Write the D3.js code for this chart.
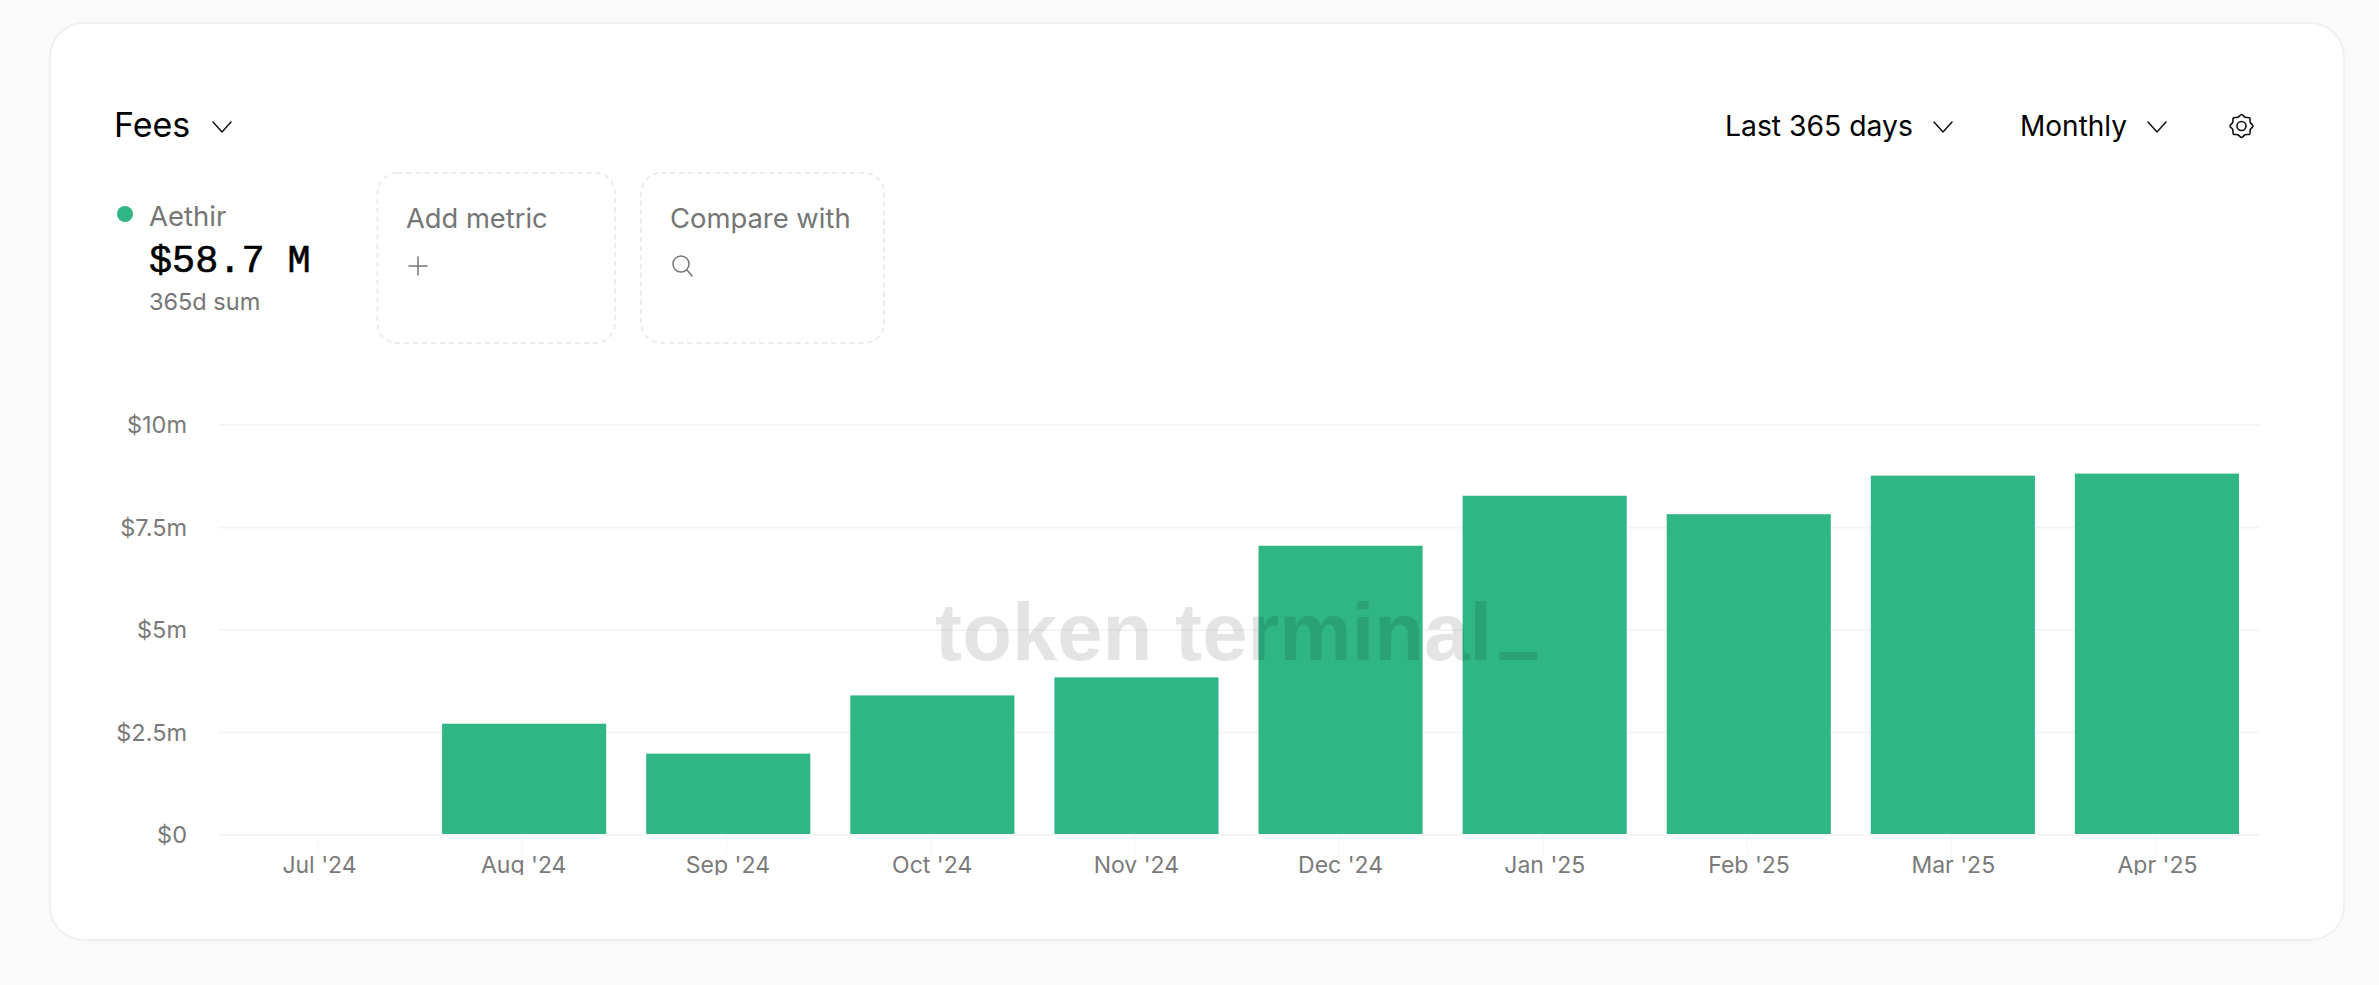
<!DOCTYPE html>
<html lang="en">

<head>
  <meta charset="UTF-8" />
  <title>Fees</title>
  <style>
    html,
    body {
      margin: 0;
      padding: 0;
      background: #fafafa;
    }

    svg {
      display: block;
    }

    .card {
      fill: #fff;
      stroke: #f0f0f0;
      stroke-width: 2;
    }

    .ui {
      font-family: Inter, "Liberation Sans", sans-serif;
    }

    .axis-label {
      font-family: Inter, "Liberation Sans", sans-serif;
      font-size: 23.5px;
      fill: #7a7a7a;
    }

    .x-label {
      font-size: 23px;
    }

    .muted {
      fill: #757575;
    }

    .icon {
      fill: none;
      stroke-linecap: round;
      stroke-linejoin: round;
    }
  </style>
</head>

<body>
  <script src="https://d3js.org/d3.v7.min.js"></script>
  <script>
    const months = ["Jul '24", "Aug '24", "Sep '24", "Oct '24", "Nov '24", "Dec '24", "Jan '25", "Feb '25", "Mar '25", "Apr '25"];
    const fees = [0, 2.69, 1.96, 3.38, 3.82, 7.03, 8.25, 7.8, 8.74, 8.79];
    const yTicks = [0, 2.5, 5, 7.5, 10];
    const yTickLabels = ["$0", "$2.5m", "$5m", "$7.5m", "$10m"];

    const width = 2379, height = 985;
    const green = "#30b584";

    const svg = d3.select("body").append("svg")
      .attr("width", width)
      .attr("height", height);

    svg.append("rect").attr("class", "card")
      .attr("x", 50).attr("y", 23)
      .attr("width", 2294).attr("height", 917)
      .attr("rx", 34);

    // clip for the x labels, the descenders get cut off in the original too
    svg.append("clipPath").attr("id", "xclip")
      .append("rect").attr("x", 200).attr("y", 836).attr("width", 2100).attr("height", 39);

    const x = d3.scaleBand().domain(months).range([218, 2259]).paddingInner(0.196).paddingOuter(0.098);
    const xTick = d3.scalePoint().domain(months).range([318, 2156]);
    const y = d3.scaleLinear().domain([0, 10]).range([834, 424]);

    // gridlines
    svg.append("g").selectAll("line").data(yTicks).join("line")
      .attr("x1", 218).attr("x2", 2259)
      .attr("y1", d => y(d) + 1).attr("y2", d => y(d) + 1)
      .attr("stroke", "#f5f5f5")
      .attr("stroke-width", 2);

    // y axis labels
    svg.append("g").selectAll("text").data(yTicks).join("text")
      .attr("class", "axis-label")
      .attr("x", 187)
      .attr("y", d => y(d) + 9)
      .attr("text-anchor", "end")
      .text((d, i) => yTickLabels[i]);

    // x axis
    const xAxis = svg.append("g").attr("clip-path", "url(#xclip)");
    xAxis.selectAll("line").data(months).join("line")
      .attr("x1", d => xTick(d)).attr("x2", d => xTick(d))
      .attr("y1", 836).attr("y2", 854)
      .attr("stroke", "#f5f5f5");
    xAxis.selectAll("text").data(months).join("text")
      .attr("class", "axis-label x-label")
      .attr("x", d => xTick(d) + 1.5)
      .attr("y", 873)
      .attr("text-anchor", "middle")
      .text(d => d);

    // bars
    svg.append("g").selectAll("rect").data(months).join("rect")
      .attr("x", d => x(d))
      .attr("y", (d, i) => y(fees[i]))
      .attr("width", x.bandwidth())
      .attr("height", (d, i) => y(0) - y(fees[i]))
      .attr("fill", green);

    // watermark sits on top of the bars, group opacity so fill and stroke don't add up
    const mark = svg.append("text").attr("opacity", 0.1)
      .attr("font-family", "'Liberation Sans', sans-serif")
      .attr("font-weight", 700);
    mark.append("tspan")
      .attr("x", 935).attr("y", 660)
      .attr("font-size", 81.5)
      .text("token terminal");
    mark.append("tspan")
      .attr("x", 1503).attr("y", 650)
      .attr("font-size", 55)
      .attr("stroke", "#000")
      .attr("stroke-width", 6)
      .text("_");

    // header
    function chevron(cx, cy) {
      svg.append("path").attr("class", "icon")
        .attr("d", `M${cx - 9},${cy - 5}L${cx},${cy + 5}L${cx + 9},${cy - 5}`)
        .attr("stroke", "#111").attr("stroke-width", 1.5);
    }

    function label(txt, px, py, size, cls, anchor) {
      return svg.append("text").attr("class", "ui " + (cls || ""))
        .attr("x", px).attr("y", py)
        .attr("font-size", size)
        .attr("text-anchor", anchor || "start")
        .attr("fill", "#000")
        .text(txt);
    }

    label("Fees", 114, 137, 34);
    chevron(222, 127);
    label("Last 365 days", 1725, 136, 28.3);
    chevron(1943, 127);
    label("Monthly", 2020, 136, 28);
    chevron(2157, 127);

    // gear icon
    const gear = svg.append("g").attr("transform", "translate(2241.5,126)").attr("class", "icon")
      .attr("stroke", "#111").attr("stroke-width", 1.6);
    gear.append("circle").attr("r", 4.5);
    gear.append("path")
      .attr("d", d3.lineRadial().curve(d3.curveCardinalClosed)
        .angle((d, i) => i * Math.PI / 8)
        .radius((d, i) => i % 2 ? 9.5 : 11.5)(d3.range(16)));

    // legend
    svg.append("circle").attr("cx", 125).attr("cy", 214).attr("r", 8).attr("fill", green);
    label("Aethir", 149, 226, 27.5, "muted");
    svg.append("text").attr("x", 149).attr("y", 272)
      .attr("font-family", "'Liberation Mono', monospace")
      .attr("font-size", 38.5)
      .attr("stroke", "#000")
      .attr("stroke-width", 0.6)
      .attr("fill", "#000")
      .text("$58.7 M");
    label("365d sum", 149, 310, 23.5, "muted");

    // dashed placeholders
    svg.append("g").selectAll("rect").data([[377.5, 237.5], [641, 243]]).join("rect")
      .attr("x", d => d[0]).attr("y", 173)
      .attr("width", d => d[1]).attr("height", 170)
      .attr("rx", 20)
      .attr("fill", "none")
      .attr("stroke", "#ececec")
      .attr("stroke-width", 2)
      .attr("stroke-dasharray", "5 4");

    label("Add metric", 406, 228, 27.3, "muted");
    label("Compare with", 670, 228, 27.4, "muted");

    svg.append("path").attr("class", "icon")
      .attr("d", "M418,257V275M409,266H427")
      .attr("stroke", "#757575").attr("stroke-width", 1.5);

    svg.append("circle").attr("class", "icon")
      .attr("cx", 681).attr("cy", 264).attr("r", 8)
      .attr("stroke", "#757575").attr("stroke-width", 1.5);
    svg.append("path").attr("class", "icon")
      .attr("d", "M687,270L692,276")
      .attr("stroke", "#757575").attr("stroke-width", 1.5);
  </script>
</body>

</html>
